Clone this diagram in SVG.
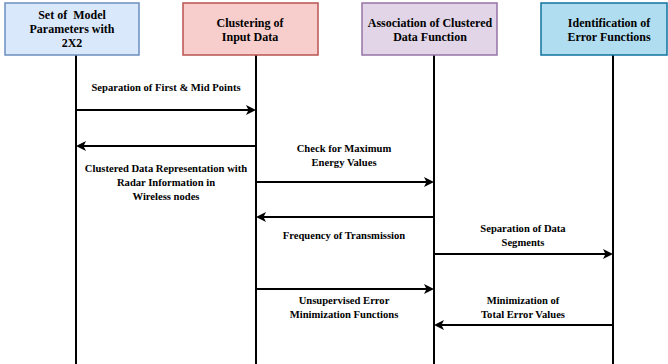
<svg xmlns="http://www.w3.org/2000/svg" width="668" height="364" viewBox="0 0 668 364">
<style>
.t{font-family:"Liberation Serif",serif;font-weight:bold;fill:#000;text-anchor:middle}
.h{font-size:12px}
.l{font-size:10.6px}
.life{stroke:#000;stroke-width:2;fill:none}
.c{stroke:#000;stroke-width:2;fill:none;marker-end:url(#ah)}
</style>
<defs>
<marker id="ah" markerWidth="10" markerHeight="10" refX="8" refY="5" orient="auto" markerUnits="userSpaceOnUse">
<path d="M0,0 L10,5 L0,10 L2.5,5 Z" fill="#000"/>
</marker>
</defs>
<rect width="668" height="364" fill="#fff"/>
<g id="lifelines">
<line class="life" x1="76" y1="55" x2="76" y2="364"/>
<line class="life" x1="256" y1="55" x2="256" y2="364"/>
<line class="life" x1="434" y1="55" x2="434" y2="364"/>
<line class="life" x1="613" y1="55" x2="613" y2="364"/>
</g>
<g id="n1">
<rect x="5" y="3" width="134" height="52" fill="#dae8fc" stroke="#6c8ebf" stroke-width="1.5"/>
<text class="t h" x="72" y="19">Set of&#160; Model</text>
<text class="t h" x="72" y="33">Parameters with</text>
<text class="t h" x="72" y="47">2X2</text>
</g>
<g id="n2">
<rect x="183" y="3" width="135" height="52" fill="#f8cecc" stroke="#b85450" stroke-width="1.5"/>
<text class="t h" x="250" y="27">Clustering of</text>
<text class="t h" x="250" y="41">Input Data</text>
</g>
<g id="n3">
<rect x="362" y="3" width="135" height="52" fill="#e1d5e7" stroke="#9673a6" stroke-width="1.5"/>
<text class="t h" x="430" y="27">Association of Clustered</text>
<text class="t h" x="430" y="41">Data Function</text>
</g>
<g id="n4">
<rect x="541" y="3" width="126" height="52" fill="#b1ddf0" stroke="#10739e" stroke-width="1.5"/>
<text class="t h" x="609" y="27">Identification of</text>
<text class="t h" x="609" y="41">Error Functions</text>
</g>
<g id="connectors">
<line class="c" x1="76" y1="110" x2="254" y2="110"/>
<line class="c" x1="256" y1="146" x2="78" y2="146"/>
<line class="c" x1="256" y1="182" x2="432" y2="182"/>
<line class="c" x1="434" y1="217" x2="258" y2="217"/>
<line class="c" x1="434" y1="254" x2="611" y2="254"/>
<line class="c" x1="256" y1="289" x2="432" y2="289"/>
<line class="c" x1="613" y1="325" x2="436" y2="325"/>
</g>
<g id="labels">
<text class="t l" x="166" y="91">Separation of First &amp; Mid Points</text>
<text class="t l" x="166" y="172">Clustered Data Representation with</text>
<text class="t l" x="166" y="186">Radar Information in</text>
<text class="t l" x="166" y="200">Wireless nodes</text>
<text class="t l" x="344" y="152">Check for Maximum</text>
<text class="t l" x="344" y="166">Energy Values</text>
<text class="t l" x="344" y="239">Frequency of Transmission</text>
<text class="t l" x="523" y="232">Separation of Data</text>
<text class="t l" x="523" y="246">Segments</text>
<text class="t l" x="344" y="304">Unsupervised Error</text>
<text class="t l" x="344" y="318">Minimization Functions</text>
<text class="t l" x="523" y="304">Minimization of</text>
<text class="t l" x="523" y="318">Total Error Values</text>
</g>
</svg>
